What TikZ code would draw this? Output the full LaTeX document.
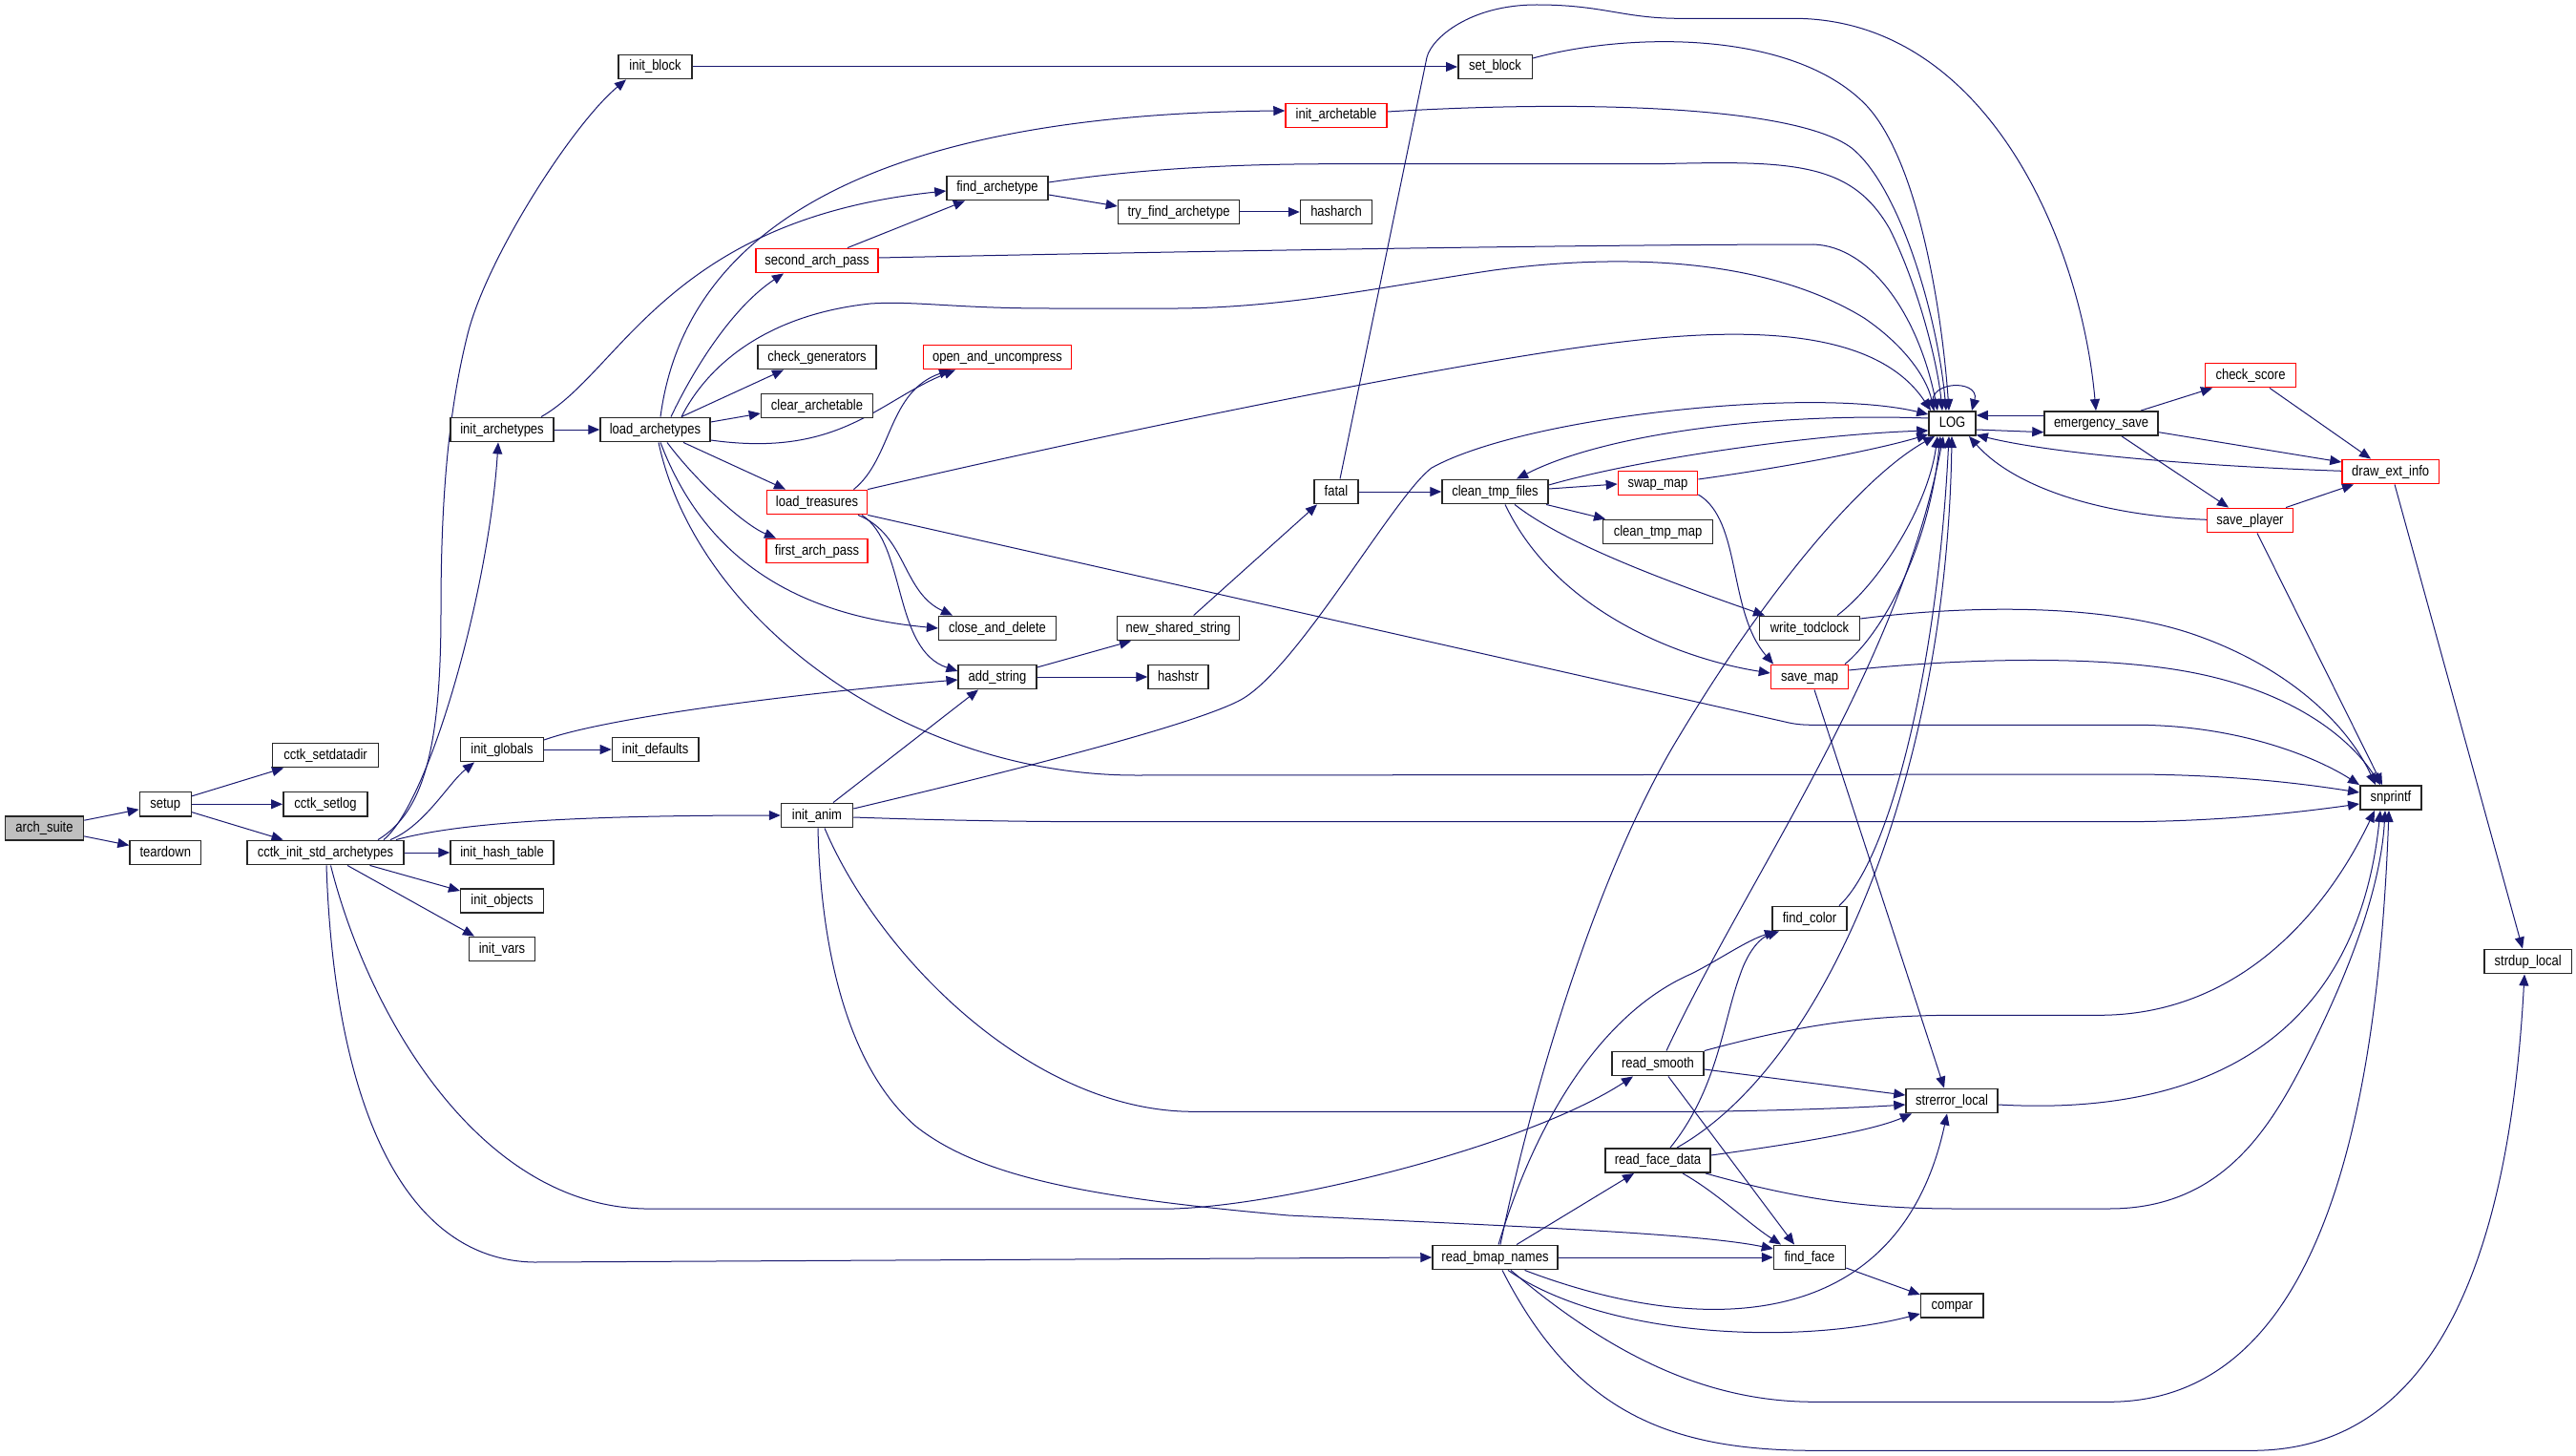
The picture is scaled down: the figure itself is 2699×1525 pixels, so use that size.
\documentclass[tikz,border=0pt]{standalone}
\usepackage{fontspec}
\setmainfont{Liberation Sans}[FakeStretch=0.85]
\usetikzlibrary{arrows.meta,calc}
\definecolor{edgec}{HTML}{191970}
\pgfdeclarelayer{background}
\pgfdeclarelayer{edges}
\pgfsetlayers{background,edges,main}
\begin{document}
\begin{tikzpicture}[x=1pt,y=-1pt,
  box/.style={draw=black!85, line width=1.5pt, fill=white, minimum height=25.4pt,
    inner sep=0pt, text height=11pt, text depth=3pt, font=\fontsize{15.3}{18}\selectfont},
  redbox/.style={box, draw=red},
  e/.style={draw=edgec, line width=1pt, line join=round, -{Triangle[length=12pt,width=10pt]}}]
\useasboundingbox (0,0) rectangle (2699,1525);
\begin{pgfonlayer}{background}
\fill[white] (0,0) rectangle (2699,1525);
\end{pgfonlayer}
% nodes
\node[box, minimum width=82pt, fill=gray!50] (as) at (46.5,867.5) {arch\_suite};
\node[box, minimum width=54pt] (su) at (173.3,842.3) {setup};
\node[box, minimum width=74.5pt] (td) at (173.3,893) {teardown};
\node[box, minimum width=111pt] (csd) at (341,791) {cctk\_setdatadir};
\node[box, minimum width=88.4pt] (csl) at (341,842.3) {cctk\_setlog};
\node[box, minimum width=164pt] (cia) at (341,893) {cctk\_init\_std\_archetypes};
\node[box, minimum width=77pt] (ib) at (686.5,70) {init\_block};
\node[box, minimum width=108pt] (iat) at (526,450) {init\_archetypes};
\node[box, minimum width=86.6pt] (ig) at (526,785) {init\_globals};
\node[box, minimum width=108pt] (iht) at (526,893) {init\_hash\_table};
\node[box, minimum width=86.6pt] (io) at (526,943.5) {init\_objects};
\node[box, minimum width=69.4pt] (iv) at (526,994) {init\_vars};
\node[box, minimum width=115pt] (la) at (686.5,450) {load\_archetypes};
\node[box, minimum width=90.4pt] (idf) at (686.6,785) {init\_defaults};
\node[box, minimum width=75pt] (ian) at (856,854) {init\_anim};
\node[redbox, minimum width=128pt] (sap) at (856,273) {second\_arch\_pass};
\node[box, minimum width=124pt] (cg) at (856,374) {check\_generators};
\node[box, minimum width=117pt] (ca) at (856,425) {clear\_archetable};
\node[redbox, minimum width=105pt] (lt) at (856,526) {load\_treasures};
\node[redbox, minimum width=106pt] (fap) at (856,577) {first\_arch\_pass};
\node[box, minimum width=106pt] (fa) at (1045,197) {find\_archetype};
\node[redbox, minimum width=155pt] (ou) at (1045,374) {open\_and\_uncompress};
\node[box, minimum width=122.6pt] (cd) at (1045,658) {close\_and\_delete};
\node[box, minimum width=81.6pt] (ast) at (1045,709) {add\_string};
\node[box, minimum width=127pt] (tfa) at (1235,222) {try\_find\_archetype};
\node[box, minimum width=128pt] (nss) at (1234.5,658) {new\_shared\_string};
\node[box, minimum width=63pt] (hs) at (1234.5,709) {hashstr};
\node[redbox, minimum width=106pt] (iatb) at (1400,121) {init\_archetable};
\node[box, minimum width=75pt] (ha) at (1400,222) {hasharch};
\node[box, minimum width=46.4pt] (fat) at (1400,515) {fatal};
\node[box, minimum width=77.5pt] (sb) at (1566.5,70) {set\_block};
\node[box, minimum width=111pt] (ctf) at (1566.5,515) {clean\_tmp\_files};
\node[box, minimum width=131pt] (rbn) at (1566.5,1317) {read\_bmap\_names};
\node[redbox, minimum width=83.2pt] (sm) at (1737,506) {swap\_map};
\node[box, minimum width=115pt] (ctm) at (1737,557) {clean\_tmp\_map};
\node[box, minimum width=96pt] (rs) at (1737,1114) {read\_smooth};
\node[box, minimum width=110pt] (rfd) at (1737,1215.5) {read\_face\_data};
\node[box, minimum width=105pt] (wt) at (1896,658) {write\_todclock};
\node[redbox, minimum width=81pt] (smap) at (1896,709) {save\_map};
\node[box, minimum width=77.6pt] (fc) at (1896,962) {find\_color};
\node[box, minimum width=75pt] (ff) at (1896,1317) {find\_face};
\node[box, minimum width=49pt] (log) at (2045.5,443.5) {LOG};
\node[box, minimum width=96pt] (sl) at (2045,1153) {strerror\_local};
\node[box, minimum width=65.5pt] (cmp) at (2045.3,1367.5) {compar};
\node[box, minimum width=119pt] (es) at (2201.5,443.5) {emergency\_save};
\node[redbox, minimum width=94.6pt] (cs) at (2358,393) {check\_score};
\node[redbox, minimum width=90pt] (sp) at (2357.5,545) {save\_player};
\node[redbox, minimum width=101.4pt] (dei) at (2504.7,494) {draw\_ext\_info};
\node[box, minimum width=64.4pt] (snp) at (2505,835.5) {snprintf};
\node[box, minimum width=91.4pt] (sd) at (2648.7,1007) {strdup\_local};
% edges
\begin{pgfonlayer}{edges}
\draw[e] (as) -- (su);
\draw[e] (as) -- (td);
\draw[e] (su) -- (csd);
\draw[e] (su) -- (csl);
\draw[e] (su) -- (cia);
\draw[e] (396,0 |- cia.north) .. controls (445,850) and (462,780) .. (462,640) .. controls (462,520) and (470,430) .. (490,350) .. controls (510,270) and (600,130) .. (656,0 |- ib.south);
\draw[e] (402,0 |- cia.north) .. controls (450,840) and (512,620) .. (522,0 |- iat.south);
\draw[e] (409,0 |- cia.north) .. controls (445,865) and (470,820) .. (497,0 |- ig.south);
\draw[e] (415,0 |- cia.north) .. controls (480,862) and (600,854) .. (ian.west);
\draw[e] (cia) -- (iht);
\draw[e] (387.5,0 |- cia.south) -- (io.west |- 0,933);
\draw[e] (364,0 |- cia.south) -- (497,0 |- iv.north);
\draw[e] (342,0 |- cia.south) .. controls (350,1150) and (420,1320) .. (560,1322) -- (rbn.west);
\draw[e] (346.5,0 |- cia.south) .. controls (385,1060) and (500,1262) .. (675,1266) -- (1230,1266) .. controls (1350,1262) and (1600,1200) .. (1711,0 |- rs.south);
\draw[e] (iat) -- (la);
\draw[e] (567,0 |- iat.north) .. controls (650,390) and (700,230) .. (fa.west |- 0,200);
\draw[e] (692,0 |- la.north) .. controls (710,300) and (820,120) .. (iatb.west |- 0,116);
\draw[e] (703,0 |- la.north) .. controls (730,380) and (770,320) .. (821,0 |- sap.south);
\draw[e] (714,0 |- la.north) .. controls (740,385) and (800,330) .. (912,318) .. controls (960,315) and (1000,323) .. (1100,323) -- (1234,323) .. controls (1350,322) and (1450,300) .. (1565,283) .. controls (1700,265) and (1850,270) .. (1953,333) .. controls (2000,365) and (2020,400) .. (2026,0 |- log.north);
\draw[e] (714,0 |- la.north) -- (821,0 |- cg.south);
\draw[e] (la.east |- 0,442) -- (ca.west |- 0,433);
\draw[e] (la.east |- 0,461) .. controls (880,480) and (920,420) .. (1001,0 |- ou.south);
\draw[e] (716,0 |- la.south) -- (823,0 |- lt.north);
\draw[e] (699,0 |- la.south) .. controls (730,505) and (780,550) .. (813,0 |- fap.north);
\draw[e] (692,0 |- la.south) .. controls (740,590) and (840,645) .. (cd.west);
\draw[e] (690,0 |- la.south) .. controls (730,650) and (950,812) .. (1190,812) -- (2240,811) .. controls (2350,812) and (2420,822) .. (snp.west |- 0,830);
\draw[e] (894.5,0 |- lt.north) .. controls (935,480) and (930,410) .. (996,0 |- ou.south);
\draw[e] (899,0 |- lt.south) .. controls (950,560) and (945,620) .. (998,0 |- cd.north);
\draw[e] (903,0 |- lt.south) .. controls (950,570) and (935,680) .. (ast.west |- 0,703);
\draw[e] (lt.north east) .. controls (1200,445) and (1550,375) .. (1700,358) .. controls (1850,340) and (1970,350) .. (2023,0 |- log.north);
\draw[e] (lt.south east) -- (1870,756) .. controls (1880,758.5) and (1888,759.3) .. (1900,759.3) -- (2240,759.3) .. controls (2350,760) and (2430,795) .. (snp.north west);
\draw[e] (888,0 |- sap.north) -- (1011,0 |- fa.south);
\draw[e] (sap.east |- 0,270) .. controls (1300,262) and (1700,256) .. (1900,256) .. controls (1960,258) and (2010,330) .. (2030,0 |- log.north);
\draw[e] (fa.east |- 0,204) -- (tfa.west |- 0,216);
\draw[e] (fa.east |- 0,191) .. controls (1200,176) and (1300,171.7) .. (1400,171.7) -- (1737,171.7) .. controls (1880,168) and (1940,170) .. (1980,240) .. controls (2010,300) and (2030,380) .. (2035,0 |- log.north);
\draw[e] (tfa) -- (ha);
\draw[e] (ib) -- (sb);
\draw[e] (sb.east |- 0,61) .. controls (1700,35) and (1870,30) .. (1950,105) .. controls (2010,160) and (2035,330) .. (2042,0 |- log.north);
\draw[e] (iatb.east |- 0,117) .. controls (1650,105) and (1880,110) .. (1940,155) .. controls (1990,195) and (2030,330) .. (2039,0 |- log.north);
\draw[e] (ig) -- (idf);
\draw[e] (ig.east |- 0,775) .. controls (640,750) and (850,725) .. (ast.west |- 0,712);
\draw[e] (873,0 |- ian.north) -- (1025,0 |- ast.south);
\draw[e] (ian.east |- 0,847) .. controls (1050,810) and (1250,760) .. (1300,733) .. controls (1360,700) and (1460,520) .. (1500,490) .. controls (1600,435) and (1900,405) .. (log.west |- 0,434);
\draw[e] (ian.east |- 0,856) .. controls (950,858) and (1050,860.7) .. (1150,860.7) -- (2220,860.7) .. controls (2320,860.7) and (2400,852) .. (snp.west |- 0,842);
\draw[e] (864,0 |- ian.south) .. controls (920,1000) and (1080,1164) .. (1250,1164.3) -- (1780,1164.3) .. controls (1880,1163) and (1950,1160) .. (sl.west |- 0,1157);
\draw[e] (857,0 |- ian.south) .. controls (860,1000) and (890,1120) .. (960,1180) .. controls (1030,1235) and (1150,1255) .. (1350,1273) .. controls (1600,1285) and (1780,1292) .. (ff.west |- 0,1308);
\draw[e] (1589,0 |- rbn.north) -- (1712,0 |- rfd.south);
\draw[e] (rbn) -- (ff);
\draw[e] (1570,0 |- rbn.north) .. controls (1610,1170) and (1680,1060) .. (1772,1020) .. controls (1800,1006) and (1830,985) .. (1861,0 |- fc.south);
\draw[e] (1572,0 |- rbn.north) .. controls (1610,1120) and (1680,900) .. (1760,770) .. controls (1850,620) and (1950,500) .. (2027,0 |- log.south);
\draw[e] (1580,0 |- rbn.south) .. controls (1680,1400) and (1880,1410) .. (cmp.west |- 0,1376);
\draw[e] (1597.5,0 |- rbn.south) .. controls (1780,1400) and (1990,1400) .. (2040,0 |- sl.south);
\draw[e] (1583,0 |- rbn.south) .. controls (1700,1430) and (1800,1468) .. (1900,1468.3) -- (2210,1468.3) .. controls (2420,1468) and (2490,1200) .. (2503,0 |- snp.south);
\draw[e] (1574,0 |- rbn.south) .. controls (1650,1480) and (1750,1519) .. (1900,1519.3) -- (2360,1519.3) .. controls (2560,1519) and (2630,1300) .. (2645,0 |- sd.south);
\draw[e] (1746,0 |- rs.north) .. controls (1830,920) and (1990,700) .. (2036,0 |- log.south);
\draw[e] (rs.east |- 0,1120) -- (sl.west |- 0,1147);
\draw[e] (1748,0 |- rs.south) -- (1880,0 |- ff.north);
\draw[e] (rs.north east) .. controls (1880,1075) and (1950,1063.3) .. (2050,1063.3) -- (2200,1063.3) .. controls (2350,1063) and (2440,950) .. (2488,0 |- snp.south);
\draw[e] (1750,0 |- rfd.north) .. controls (1800,1140) and (1805,1070) .. (1823.5,1020) .. controls (1832,995) and (1845,982) .. (1864,0 |- fc.south);
\draw[e] (1757,0 |- rfd.north) .. controls (1920,1110) and (2040,800) .. (2045,0 |- log.south);
\draw[e] (rfd.east |- 0,1210) .. controls (1880,1198) and (1960,1185) .. (2003,0 |- sl.south);
\draw[e] (1763,0 |- rfd.south) .. controls (1800,1250) and (1830,1280) .. (1866,0 |- ff.north);
\draw[e] (1787,0 |- rfd.south) .. controls (1880,1255) and (1950,1266) .. (2050,1266) -- (2210,1266) .. controls (2330,1266) and (2380,1180) .. (2420,1100) .. controls (2470,1000) and (2495,920) .. (2499,0 |- snp.south);
\draw[e] (ff.east |- 0,1328) -- (cmp.west |- 0,1356);
\draw[e] (1927,0 |- fc.north) .. controls (1980,900) and (2030,700) .. (2042,0 |- log.south);
\draw[e] (1933,0 |- smap.north) .. controls (1970,665) and (2020,580) .. (2033,0 |- log.south);
\draw[e] (smap.east |- 0,702) .. controls (2050,690) and (2200,685) .. (2300,705) .. controls (2400,725) and (2460,770) .. (2494,0 |- snp.north);
\draw[e] (1901,0 |- smap.south) -- (2037,0 |- sl.north);
\draw[e] (1925,0 |- wt.north) .. controls (1970,610) and (2020,530) .. (2030,0 |- log.south);
\draw[e] (wt.east |- 0,648) .. controls (2050,635) and (2200,630) .. (2300,665) .. controls (2400,700) and (2460,760) .. (2489,0 |- snp.north);
\draw[e] (ctf.east |- 0,508) .. controls (1720,480) and (1900,455) .. (log.west |- 0,451);
\draw[e] (log.west |- 0,438) .. controls (1850,432) and (1680,455) .. (1589,0 |- ctf.north);
\draw[e] (sm.east |- 0,502) .. controls (1880,488) and (1970,470) .. (log.west |- 0,455);
\draw[e] (ctf.east |- 0,512) -- (sm.west |- 0,507);
\draw[e] (1620,0 |- ctf.south) -- (1682,0 |- ctm.north);
\draw[e] (1587,0 |- ctf.south) .. controls (1640,570) and (1750,610) .. (1849,0 |- wt.north);
\draw[e] (1577,0 |- ctf.south) .. controls (1630,640) and (1760,690) .. (smap.west |- 0,705);
\draw[e] (sm.east |- 0,518) .. controls (1825,545) and (1810,640) .. (1858,0 |- smap.north);
\draw[e] (fat) -- (ctf);
\draw[e] (1404,0 |- fat.north) -- (1495,60) .. controls (1500,40) and (1540,5) .. (1610,5) .. controls (1680,5) and (1700,19.3) .. (1760,19.3) -- (1880,19.3) .. controls (2080,20) and (2180,250) .. (2196,0 |- es.north);
\draw[e] (1250.6,0 |- nss.north) -- (1380,0 |- fat.south);
\draw[e] (ast.east |- 0,699) -- (1185,0 |- nss.south);
\draw[e] (ast) -- (hs);
\draw[e] (2027,0 |- log.north) .. controls (2012,398) and (2075,396) .. (2066,0 |- log.north);
\draw[e] (log.east |- 0,450) -- (es.west |- 0,452.7);
\draw[e] (es.west |- 0,435) -- (log.east |- 0,435);
\draw[e] (2243,0 |- es.north) -- (2318,0 |- cs.south);
\draw[e] (es.east |- 0,452.7) -- (dei.west |- 0,484);
\draw[e] (2223,0 |- es.south) -- (2335,0 |- sp.north);
\draw[e] (2378,0 |- cs.south) -- (2484,0 |- dei.north);
\draw[e] (dei.west |- 0,493.3) .. controls (2300,488) and (2150,475) .. (log.east |- 0,455.5);
\draw[e] (sp.west |- 0,544.3) .. controls (2200,540) and (2110,510) .. (2063,0 |- log.south);
\draw[e] (2395,0 |- sp.north) -- (2466,0 |- dei.south);
\draw[e] (2365,0 |- sp.south) -- (2496,0 |- snp.north);
\draw[e] (2509,0 |- dei.south) -- (2643,0 |- sd.north);
\draw[e] (sl.east |- 0,1157) .. controls (2320,1170) and (2470,1080) .. (2494,0 |- snp.south);
\end{pgfonlayer}
\end{tikzpicture}
\end{document}
